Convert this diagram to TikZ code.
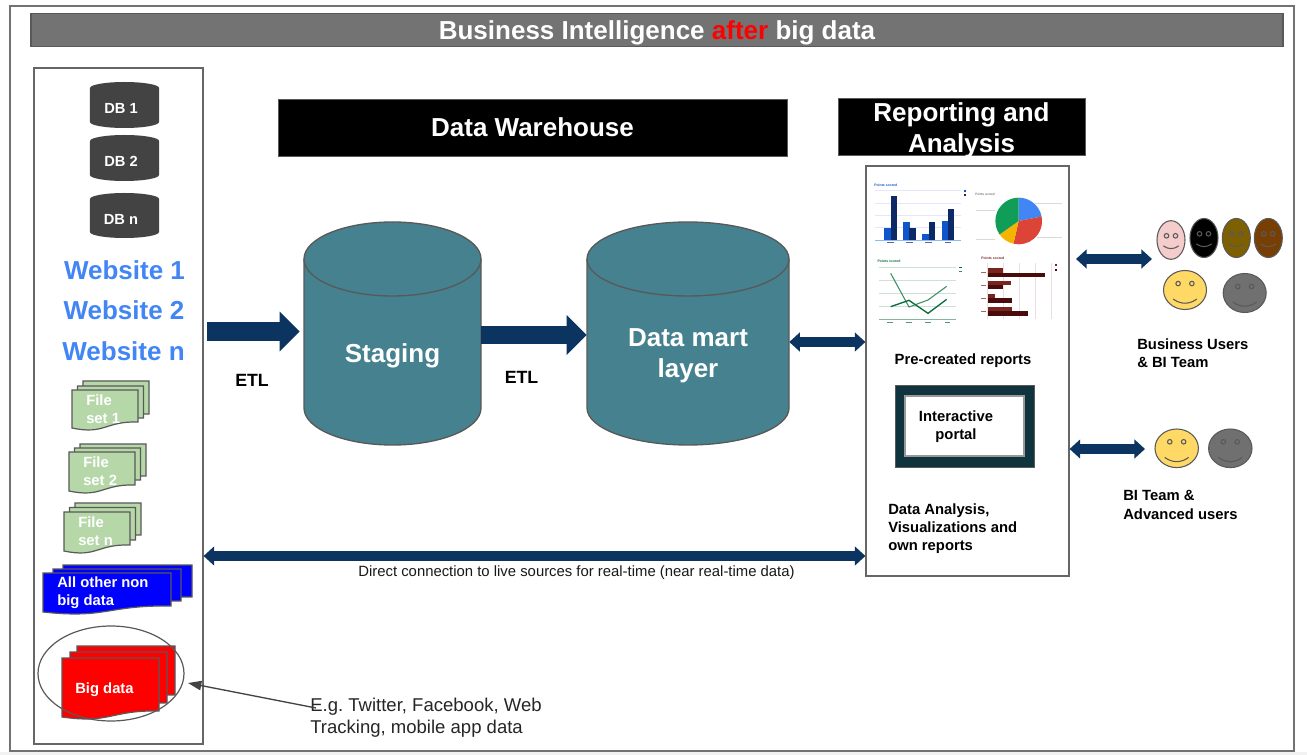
\documentclass[tikz,border=0pt]{standalone}
\usepackage{fontspec}
\setmainfont{Liberation Sans}
\frenchspacing
\usetikzlibrary{shapes.geometric,arrows.meta,calc}
\definecolor{navy}{HTML}{0B3560}
\definecolor{teal1}{HTML}{45818E}
\definecolor{dbgrey}{HTML}{434343}
\definecolor{edge}{HTML}{595959}
\definecolor{framec}{HTML}{666666}
\definecolor{webblue}{HTML}{4285F4}
\definecolor{filegreen}{HTML}{B6D7A8}
\definecolor{portal}{HTML}{0F343E}
\definecolor{barL}{HTML}{1155CC}
\definecolor{barD}{HTML}{0B2A66}
\definecolor{redL}{HTML}{7A2420}
\definecolor{redD}{HTML}{4A0C0A}
\definecolor{grnD}{HTML}{0B6B3A}
\definecolor{grnM}{HTML}{3D8F64}
\newcommand{\px}[2]{\fontsize{#1}{#2}\selectfont}
\tikzset{
  lab/.style={inner sep=0pt,align=left,anchor=west,font=\bfseries\px{11.1pt}{13.6pt}},
  wlab/.style={lab,text=white},
  weblab/.style={inner sep=0pt,text=webblue,font=\bfseries\px{19.5pt}{24pt}},
  header/.style={draw=edge,fill=black,inner sep=0pt},
  headtext/.style={text=white,align=center,inner sep=0pt,font=\bfseries\px{19.5pt}{23.2pt}},
  frameb/.style={draw=framec,line width=.85pt,fill=white,inner sep=0pt},
  etl/.style={navy,line width=14.2pt,-{Triangle[length=15pt,width=29pt]}},
  dbl/.style={navy,line width=6.8pt,{Triangle[length=8pt,width=14pt]}-{Triangle[length=8pt,width=14pt]}},
  facen/.style={ellipse,draw=edge,line width=.8pt,inner sep=0pt},
}
% #1 name, #2 x1, #3 y1, #4 x2, #5 y2, #6 ry
\newcommand{\bigcyl}[6]{%
  \path[fill=teal1,draw=edge,line width=1pt] (#2,#3+#6) arc[start angle=180,end angle=0,x radius={(#4-#2)/2*.75pt},y radius={#6*.75pt}]
    -- (#4,#5-#6) arc[start angle=0,end angle=-180,x radius={(#4-#2)/2*.75pt},y radius={#6*.75pt}] -- cycle;
  \draw[edge,line width=1pt] (#2,#3+#6) arc[start angle=180,end angle=360,x radius={(#4-#2)/2*.75pt},y radius={#6*.75pt}];
  \node[inner sep=0pt,minimum width={(#4-#2)*.75pt},minimum height={(#5-#3)*.75pt}] (#1) at ({(#2+#4)/2},{(#3+#5)/2}) {};
}
% DB cylinder
\newcommand{\dbcyl}[6]{%
  \path[fill=dbgrey] (#2,#3+6) arc[start angle=180,end angle=0,x radius=25.9pt,y radius=4.5pt]
    -- (#4,#5-6) arc[start angle=0,end angle=-180,x radius=25.9pt,y radius=4.5pt] -- cycle;
  \node[inner sep=0pt,text=white,font=\bfseries\px{11pt}{12pt}] (#1) at (121,{#3+#6}) {DB #1};
}
% document sheet: x1,y1,x2,y2,fill,stroke
\newcommand{\sheet}[6]{%
  \path[fill=#5,draw=#6,line width=.9pt] (#1,#2) -- (#3,#2) -- (#3,#4-8)
    .. controls ({#3-.5*(#3-#1)},#4-9) and ({#1+.5*(#3-#1)},#4+5) .. (#1,#4-2) -- cycle;
}
% face: name,x,y,rx,ry,fill
\newcommand{\face}[6]{%
  \node[facen,fill=#6,minimum width={2*#4*.75pt},minimum height={2*#5*.75pt}] (#1) at (#2,#3) {};
  \begin{scope}[shift={(#2,#3)},x={#4*.75pt},y={-#4*.75pt}]
    \draw[edge,line width=.8pt] (-.32,-.3) circle[radius=1.7pt] (.32,-.3) circle[radius=1.7pt];
    \draw[edge,line width=.8pt] (-.55,.42) .. controls (-.2,.68) and (.2,.68) .. (.55,.42);
  \end{scope}
}
\begin{document}
\begin{tikzpicture}[x=.75pt,y=-.75pt]
\useasboundingbox (0,0) rectangle (1307,755);
\fill[white] (0,0) rectangle (1307,755);
\fill[black!5] (0,752) rectangle (1307,755);
\node[draw=edge!85,line width=1.4pt,inner sep=0pt,minimum width={1284*.75pt},minimum height={745*.75pt}] (page) at (652,378.5) {};

% title
\node[draw=edge,line width=.9pt,fill=black!55,inner sep=0pt,minimum width={1252*.75pt},minimum height={33*.75pt},text depth=0pt,text=white,font=\bfseries\px{19.5pt}{22pt}] (title) at (657,30) {Business Intelligence \textcolor{red}{after} big data};

% headers
\node[header,minimum width={509*.75pt},minimum height={57*.75pt}] (dw) at (532.5,127.5) {};
\node[headtext] (dwt) at (532.5,127.5) {Data Warehouse};
\node[header,minimum width={247*.75pt},minimum height={57*.75pt}] (ra) at (961.5,126.5) {};
\node[headtext] (rat) at (961.5,130) {Reporting and\\Analysis};

% sources box
\node[frameb,minimum width={169*.75pt},minimum height={676*.75pt}] (sources) at (118.5,406) {};
\dbcyl{1}{90}{82}{159}{128}{26}
\dbcyl{2}{90}{135}{159}{181}{26}
\dbcyl{n}{90}{193}{159}{238}{26}
\node[weblab] (web1) at (124.5,270) {Website 1};
\node[weblab] (web2) at (124,310) {Website 2};
\node[weblab] (webn) at (123.5,351) {Website n};

% file sets
\sheet{83}{381}{149}{422}{filegreen}{edge}
\sheet{77.5}{386}{143.5}{426}{filegreen}{edge}
\sheet{72}{390}{138}{430}{filegreen}{edge}
\node[wlab] (fs1) at (86,409) {File\\set 1};
\sheet{80}{444}{146}{484}{filegreen}{edge}
\sheet{74.5}{448}{140.5}{488}{filegreen}{edge}
\sheet{69}{452}{135}{493}{filegreen}{edge}
\node[wlab] (fs2) at (83,471.5) {File\\set 2};
\sheet{75}{503}{141}{543}{filegreen}{edge}
\sheet{69.5}{507.5}{135.5}{548}{filegreen}{edge}
\sheet{64}{512}{130}{553}{filegreen}{edge}
\node[wlab] (fsn) at (78,531.5) {File\\set n};
\sheet{63}{565}{192}{605}{blue}{edge}
\sheet{53}{569}{181}{609}{blue}{edge}
\sheet{43}{573}{171}{614}{blue}{edge}
\node[wlab] (other) at (57,592.5) {All other non\\big data};
\sheet{77}{646}{175}{703}{red}{edge}
\sheet{70}{652}{167}{711}{red}{edge}
\sheet{62}{658}{159}{719}{red}{edge}
\node[wlab] (big) at (75,689.5) {Big data};
\node[ellipse,draw=edge,line width=.9pt,inner sep=0pt,minimum width={146*.75pt},minimum height={95*.75pt}] (bigring) at (111,673.5) {};
\node[inner sep=0pt,align=left,anchor=west,text=black!85,font=\px{13.9pt}{16.5pt}] (eg) at (310,718) {E.g. Twitter, Facebook, Web\\Tracking, mobile app data};
\coordinate (egstart) at (316,708);
\coordinate (bighit) at (188,683);
\draw[dbgrey,line width=1pt,-{Triangle[length=10pt,width=7pt]}] (egstart) -- (bighit);

% cylinders
\bigcyl{staging}{304}{222}{481}{445}{37}
\node[inner sep=0pt,text=white,font=\bfseries\px{19.5pt}{23pt}] (stagingt) at (392.5,355.5) {Staging};
\bigcyl{mart}{587}{222}{789}{445}{37}
\node[inner sep=0pt,text=white,align=center,font=\bfseries\px{19.5pt}{23pt}] (martt) at (688,355.5) {Data mart\\layer};
\node[lab,anchor=center,font=\bfseries\px{13.3pt}{14pt}] (etl1) at (252,380) {ETL};
\node[lab,anchor=center,font=\bfseries\px{13.3pt}{14pt}] (etl2) at (521.5,377) {ETL};

% reports box
\node[frameb,minimum width={203*.75pt},minimum height={410*.75pt}] (reports) at (967.5,371) {};

% bar chart
\begin{scope}[shift={(860,160)},x=.25pt,y=-.25pt]
  \foreach \yy in {92,129,166,203} \draw[blue!10,line width=.6pt] (45,\yy) -- (302,\yy);
  \draw[webblue!60,line width=.7pt] (45,241) -- (302,241);
  \foreach \a/\h in {73/205,130/187,187/222,245/184} \fill[barL] (\a,\h) rectangle ++(18.5,241-\h);
  \foreach \a/\h in {92/108,148/205,206/186,263/147} \fill[barD] (\a,\h) rectangle ++(18.5,241-\h);
  \node[inner sep=0pt,anchor=west,text=barL,font=\bfseries\px{2.6pt}{3pt}] (t1) at (42,76) {Points scored};
  \fill[barL] (312,90) rectangle (318,96);
  \fill[barD] (312,103) rectangle (318,109);
  \foreach \a in {82,139,196,254} \fill[barD!70] (\a,245) rectangle ++(20,4);
  % line chart
  \foreach \yy in {322,361,400,439} \draw[grnD!20,line width=.6pt] (57,\yy) -- (288,\yy);
  \draw[grnD!50,line width=.7pt] (57,478) -- (288,478);
  \draw[grnM,line width=.8pt] (92,340) -- (147,441) -- (204,420) -- (260,379);
  \draw[grnD,line width=1pt] (92,440) -- (147,421) -- (204,460) -- (260,418);
  \node[inner sep=0pt,anchor=west,text=grnD,font=\bfseries\px{2.6pt}{3pt}] (t3) at (52,304) {Points scored};
  \draw[grnD,line width=.6pt] (298,322) -- (306,322);
  \draw[grnM,line width=.6pt] (298,335) -- (306,335);
  \foreach \a in {82,139,196,254} \fill[grnD!70] (\a,485) rectangle ++(16,4);
  % red bars
  \foreach \xx in {383,431,479,527,575} \draw[redL!15,line width=.5pt] (\xx,310) -- (\xx,478);
  \foreach \a/\b/\c in {324/338/430,362/376/452,402/415/406,441/454/456} \fill[redL] (383,\a) rectangle (\c,\b);
  \foreach \a/\b/\c in {338/350/554,376/388/430,415/428/455,454/467/503} \fill[redD] (383,\a) rectangle (\c,\b);
  \node[inner sep=0pt,anchor=west,text=redL,font=\bfseries\px{2.6pt}{3pt}] (t4) at (363,296) {Points scored};
  \foreach \yy in {338,376,415,454} \fill[redL!70] (364,\yy-2) rectangle (378,\yy+2);
  \fill[redL] (584,312) rectangle (590,318);
  \fill[redD] (584,326) rectangle (590,332);
  % pie labels
  \node[inner sep=0pt,anchor=west,text=black!70,font=\px{2.4pt}{3pt}] (t2) at (345,103) {Points scored};
  \foreach \p/\q/\z in {348/405/150,348/405/238,525/605/130,530/605/232} \draw[black!15,line width=.6pt] (\p,\z) -- (\q,\z);
\end{scope}
\definecolor{pieR}{HTML}{DB4437}\definecolor{pieY}{HTML}{F4B400}\definecolor{pieG}{HTML}{0F9D58}
\begin{scope}[shift={(1018.7,221)},x=.25pt,y=.25pt]
  \fill[webblue] (0,0) -- (90:70) arc[start angle=90,end angle=11,radius=17.5pt] -- cycle;
  \fill[pieR] (0,0) -- (11:70) arc[start angle=11,end angle=-103,radius=17.5pt] -- cycle;
  \fill[pieY] (0,0) -- (-103:70) arc[start angle=-103,end angle=-145,radius=17.5pt] -- cycle;
  \fill[pieG] (0,0) -- (-145:70) arc[start angle=-145,end angle=-270,radius=17.5pt] -- cycle;
\end{scope}
\node[lab,anchor=center] (pre) at (963,361) {Pre-created reports};

% portal
\node[draw=edge,line width=.7pt,fill=portal,inner sep=0pt,minimum width={139*.75pt},minimum height={82*.75pt}] (portalo) at (964.5,426) {};
\node[draw=black!40,line width=.8pt,fill=white,inner sep=0pt,minimum width={119*.75pt},minimum height={60*.75pt}] (portalb) at (964.5,426) {};
\node[lab,anchor=center,align=center] (portalt) at (956,427) {Interactive\\portal};
\node[lab] (analysis) at (888,529) {Data Analysis,\\Visualizations and\\own reports};

% faces
\definecolor{fpink}{HTML}{F4CCCC}\definecolor{folive}{HTML}{7F6000}\definecolor{fbrown}{HTML}{783F04}\definecolor{fyellow}{HTML}{FFD966}\definecolor{fgrey}{HTML}{707070}
\face{pink}{1171}{240}{14}{19.3}{fpink}
\face{blk}{1204}{238}{14}{19.5}{black}
\face{olive}{1236.3}{238}{14}{19.5}{folive}
\face{brn}{1268.3}{238}{14}{19.5}{fbrown}
\face{ylw}{1185}{290}{21.5}{19.5}{fyellow}
\face{gry}{1244.7}{293}{21.5}{19.5}{fgrey}
\face{ylwb}{1176.7}{448.3}{21.7}{19.3}{fyellow}
\face{gryb}{1230.3}{448.3}{21.7}{19.3}{fgrey}
\node[lab] (bu) at (1137,353) {Business Users\\\& BI Team};
\node[lab] (bi) at (1123,505) {BI Team \&\\Advanced users};
\node[inner sep=0pt,text=black!90,font=\px{11.15pt}{13pt}] (direct) at (576.5,572.5) {Direct connection to live sources for real-time (near real-time data)};

% connectors
\coordinate (etlstart) at (207,331.5);
\draw[etl,shorten >=3pt] (etlstart) -- (staging.west |- etlstart);
\coordinate (etlmid) at (481,335);
\draw[etl] (staging.east |- etlmid) -- (mart.west |- etlmid);
\coordinate (martlvl) at (789,342);
\draw[dbl] (mart.east |- martlvl) -- (reports.west |- martlvl);
\coordinate (bua) at (1076,259);
\coordinate (bub) at (1152,259);
\draw[dbl] (bua) -- (bub);
\coordinate (bilvl) at (1069,449);
\coordinate (bib) at (1145,449);
\draw[dbl] (reports.east |- bilvl) -- (bib);
\coordinate (dirlvl) at (203,556);
\draw[dbl] (sources.east |- dirlvl) -- (reports.west |- dirlvl);
\end{tikzpicture}
\end{document}
